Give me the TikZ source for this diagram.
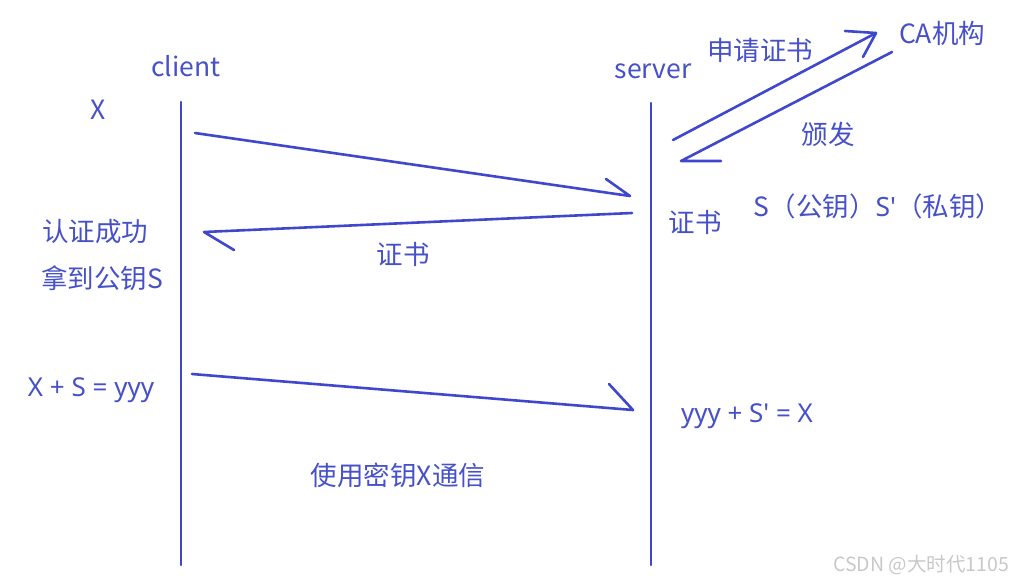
\documentclass[tikz,border=0pt]{standalone}
\usepackage{fontspec}
\setmainfont{Noto Sans CJK SC}[Ligatures=ResetAll]
\newfontfamily\lat{Noto Sans}[Ligatures=ResetAll]
\definecolor{pen}{HTML}{3F48CC}
\definecolor{txt}{HTML}{4650C8}
\definecolor{wm}{HTML}{C8C8C8}
\begin{document}
\begin{tikzpicture}[x=1pt,y=-1pt,
  lbl/.style={text=txt,font=\fontsize{26.5}{30}\selectfont,inner sep=0pt},
  stroke/.style={draw=pen,line width=2.6pt,line cap=round,line join=round}]
\useasboundingbox (0,0) rectangle (1014,582);
% lifelines
\coordinate (ct) at (181,102); \coordinate (cb) at (181,565);
\coordinate (st) at (651,103); \coordinate (sb) at (651,565);
\draw[stroke] (ct) -- (cb);
\draw[stroke] (st) -- (sb);
% labels
\node[lbl] (client) at (186,66) {client};
\node[lbl] (server) at (653,71) {server};
\node[lbl] (x) at (98,110) {X};
\node[lbl] (sq) at (760,50) {申请证书};
\node[lbl] (ca) at (942,33) {CA机构};
\node[lbl] (bf) at (828,134) {颁发};
\node[lbl] (keys) at (878,206) {S（公钥）{\lat S\char"27}（私钥）};
\node[lbl] (zs1) at (695,222) {证书};
\node[lbl] (rz) at (95,232) {认证成功};
\node[lbl] (zs2) at (403,254) {证书};
\node[lbl] (nd) at (102,278) {拿到公钥S};
\node[lbl,font=\lat\fontsize{26}{30}\selectfont] (xs) at (91,390) {X + S = yyy};
\node[lbl,font=\lat\fontsize{26}{30}\selectfont] (yy) at (747,416) {yyy + S\char"27\ = X};
\node[lbl] (sy) at (398,475) {使用密钥X通信};
\node[text=wm,font=\fontsize{19.5}{22}\selectfont,inner sep=0pt] (mark) at (921,565) {CSDN @大时代1105};
% arrow 1 client -> server
\coordinate (a1s) at (195,133); \coordinate (a1e) at (630,196); \coordinate (a1b) at (606,179);
\draw[stroke] (a1s) -- (a1e) -- (a1b);
% arrow 2 server -> client
\coordinate (a2s) at (632,213); \coordinate (a2e) at (204,232); \coordinate (a2b) at (234,250);
\draw[stroke] (a2s) -- (a2e) -- (a2b);
% arrow 3 client -> server
\coordinate (a3s) at (192,374); \coordinate (a3e) at (633,410); \coordinate (a3b) at (609,384);
\draw[stroke] (a3s) -- (a3e) -- (a3b);
% CA request
\coordinate (r1s) at (673,140); \coordinate (r1e) at (876,33);
\coordinate (r1b1) at (845,31); \coordinate (r1b2) at (863,57);
\draw[stroke] (r1s) -- (r1e);
\draw[stroke] (r1b1) -- (r1e) -- (r1b2);
% CA issue
\coordinate (r2s) at (892,52); \coordinate (r2e) at (681,161); \coordinate (r2b) at (721,161);
\draw[stroke] (r2s) -- (r2e) -- (r2b);
\end{tikzpicture}
\end{document}
